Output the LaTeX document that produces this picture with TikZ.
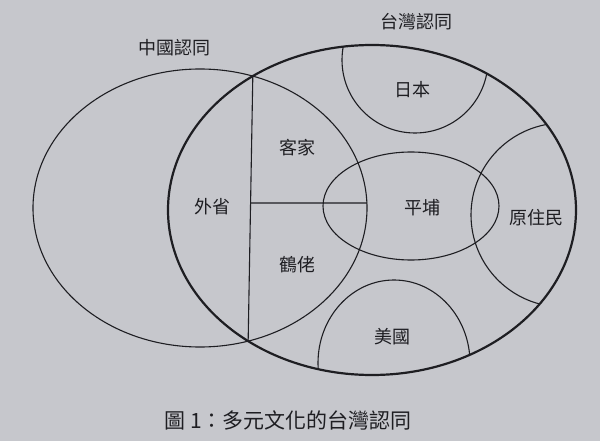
\documentclass[tikz,border=0pt]{standalone}
\usepackage{fontspec}
\newfontfamily\cjk{Noto Sans CJK TC}
\usetikzlibrary{intersections}
\definecolor{paper}{RGB}{198,199,204}
\definecolor{ink}{RGB}{30,30,34}
\begin{document}
\begin{tikzpicture}[x=1pt,y=-1pt,
  thinline/.style={draw=ink, line width=1.1pt},
  thickline/.style={draw=ink, line width=2.2pt},
  lbl/.style={text=ink, font=\cjk\fontsize{18}{18}\selectfont, inner sep=0pt},
  captext/.style={text=ink, font=\cjk\fontsize{21}{21}\selectfont, inner sep=0pt}]
\fill[paper] (0,0) rectangle (600,441);
\useasboundingbox (0,0) rectangle (600,441);

% China identity circle
\draw[thinline, name path=china] (200,208) ellipse [x radius=167pt, y radius=139pt];
% Taiwan identity (path only, for intersections)
\path[name path=taiwan] (372,210) ellipse [x radius=204pt, y radius=165pt];
\path[name intersections={of=china and taiwan, name=X}];

% division lines
\draw[thinline, name path=vline] (X-1) -- (X-2);
\coordinate (hr) at (367,203);
\path[name path=hline] (200,203) -- (hr);
\path[name intersections={of=vline and hline, by=hl}];
\draw[thinline] (hl) -- (hr);

% arcs inside Taiwan
\begin{scope}
  \clip (372,210) ellipse [x radius=204pt, y radius=165pt];
  \draw[thinline] (415,60) circle [radius=73pt];
  \draw[thinline] (563,215) circle [radius=92pt];
  \draw[thinline] (394,363) ellipse [x radius=76pt, y radius=83pt];
\end{scope}

% Pingpu
\draw[thinline] (411,206) ellipse [x radius=88pt, y radius=54pt];

% Taiwan outline
\draw[thickline] (372,210) ellipse [x radius=204pt, y radius=165pt];

% labels
\node[lbl] (lchina) at (174,48) {中國認同};
\node[lbl] (ltaiwan) at (416,22) {台灣認同};
\node[lbl] (ljapan) at (412,90) {日本};
\node[lbl] (lhakka) at (297,148) {客家};
\node[lbl] (lwaisheng) at (212,207) {外省};
\node[lbl] (lpingpu) at (422,208) {平埔};
\node[lbl] (laboriginal) at (536,218) {原住民};
\node[lbl] (lholo) at (297,265) {鶴佬};
\node[lbl] (lusa) at (392,337) {美國};

% caption
\node[captext] (caption) at (288,420) {圖 1：多元文化的台灣認同};
\end{tikzpicture}
\end{document}
